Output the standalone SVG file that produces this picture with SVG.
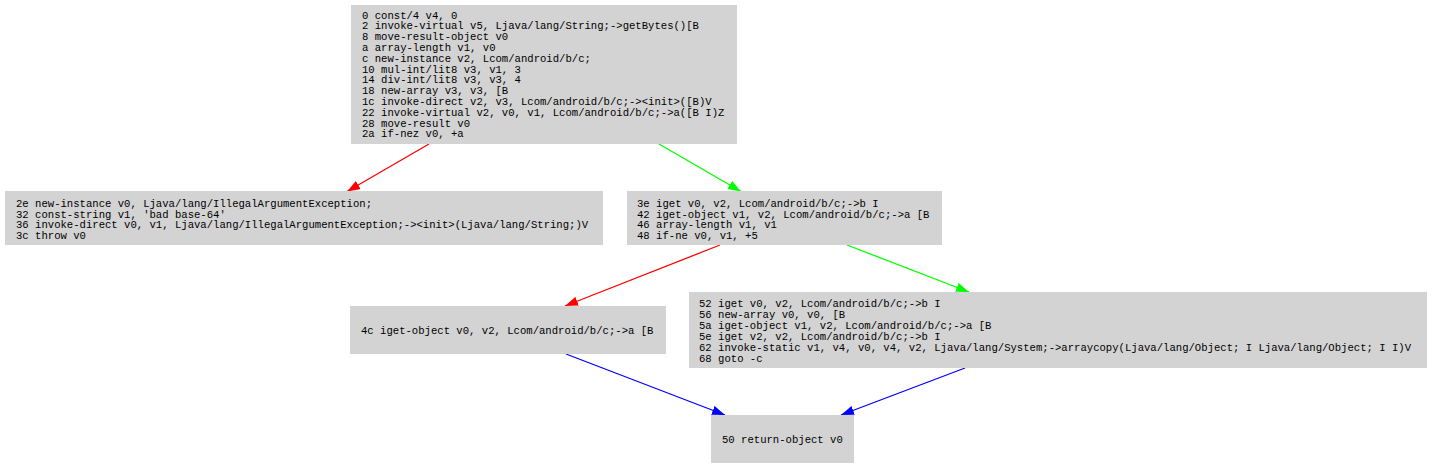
<svg xmlns="http://www.w3.org/2000/svg" width="1432" height="469" viewBox="0 0 1432 469">
<style>
.box{fill:#d3d3d3;stroke:none}
.t{font-family:"Liberation Mono","Courier New",monospace;font-size:10.6px;fill:#000}
.e{fill:none;stroke-width:1.3}
</style>
<defs>
<marker id="ar" markerUnits="userSpaceOnUse" markerWidth="14" markerHeight="10" refX="13" refY="4.7" orient="auto"><path d="M0,0 L13,4.7 L0,9.4 z" fill="#ff0000"/></marker>
<marker id="ag" markerUnits="userSpaceOnUse" markerWidth="14" markerHeight="10" refX="13" refY="4.7" orient="auto"><path d="M0,0 L13,4.7 L0,9.4 z" fill="#00ff00"/></marker>
<marker id="ab" markerUnits="userSpaceOnUse" markerWidth="14" markerHeight="10" refX="13" refY="4.7" orient="auto"><path d="M0,0 L13,4.7 L0,9.4 z" fill="#0000ff"/></marker>
</defs>
<rect width="1432" height="469" fill="#fff"/>
<g id="edges">
<line class="e" x1="429" y1="144" x2="347" y2="191.5" stroke="#ff0000" marker-end="url(#ar)"/>
<line class="e" x1="659" y1="144" x2="741" y2="191.5" stroke="#00ff00" marker-end="url(#ag)"/>
<line class="e" x1="720" y1="245" x2="565" y2="306" stroke="#ff0000" marker-end="url(#ar)"/>
<line class="e" x1="847" y1="245" x2="969" y2="292" stroke="#00ff00" marker-end="url(#ag)"/>
<line class="e" x1="566" y1="354" x2="725" y2="415" stroke="#0000ff" marker-end="url(#ab)"/>
<line class="e" x1="965" y1="368" x2="841" y2="415" stroke="#0000ff" marker-end="url(#ab)"/>
</g>
<g id="n0">
<rect class="box" x="351" y="5" width="386" height="139"/>
<text class="t" x="362" y="18.5">0 const/4 v4, 0</text>
<text class="t" x="362" y="29.3">2 invoke-virtual v5, Ljava/lang/String;-&gt;getBytes()[B</text>
<text class="t" x="362" y="40.1">8 move-result-object v0</text>
<text class="t" x="362" y="50.9">a array-length v1, v0</text>
<text class="t" x="362" y="61.7">c new-instance v2, Lcom/android/b/c;</text>
<text class="t" x="362" y="72.5">10 mul-int/lit8 v3, v1, 3</text>
<text class="t" x="362" y="83.3">14 div-int/lit8 v3, v3, 4</text>
<text class="t" x="362" y="94.1">18 new-array v3, v3, [B</text>
<text class="t" x="362" y="104.9">1c invoke-direct v2, v3, Lcom/android/b/c;-&gt;&lt;init&gt;([B)V</text>
<text class="t" x="362" y="115.7">22 invoke-virtual v2, v0, v1, Lcom/android/b/c;-&gt;a([B I)Z</text>
<text class="t" x="362" y="126.5">28 move-result v0</text>
<text class="t" x="362" y="137.3">2a if-nez v0, +a</text>
</g>
<g id="n2e">
<rect class="box" x="5" y="191" width="598" height="54"/>
<text class="t" x="16" y="207">2e new-instance v0, Ljava/lang/IllegalArgumentException;</text>
<text class="t" x="16" y="217.6">32 const-string v1, 'bad base-64'</text>
<text class="t" x="16" y="228.2">36 invoke-direct v0, v1, Ljava/lang/IllegalArgumentException;-&gt;&lt;init&gt;(Ljava/lang/String;)V</text>
<text class="t" x="16" y="238.8">3c throw v0</text>
</g>
<g id="n3e">
<rect class="box" x="627" y="191" width="315" height="54"/>
<text class="t" x="637" y="207">3e iget v0, v2, Lcom/android/b/c;-&gt;b I</text>
<text class="t" x="637" y="217.6">42 iget-object v1, v2, Lcom/android/b/c;-&gt;a [B</text>
<text class="t" x="637" y="228.2">46 array-length v1, v1</text>
<text class="t" x="637" y="238.8">48 if-ne v0, v1, +5</text>
</g>
<g id="n4c">
<rect class="box" x="350" y="306" width="316" height="48"/>
<text class="t" x="361" y="334">4c iget-object v0, v2, Lcom/android/b/c;-&gt;a [B</text>
</g>
<g id="n52">
<rect class="box" x="689" y="292" width="738" height="76"/>
<text class="t" x="699" y="306.5">52 iget v0, v2, Lcom/android/b/c;-&gt;b I</text>
<text class="t" x="699" y="317.5">56 new-array v0, v0, [B</text>
<text class="t" x="699" y="328.5">5a iget-object v1, v2, Lcom/android/b/c;-&gt;a [B</text>
<text class="t" x="699" y="339.5">5e iget v2, v2, Lcom/android/b/c;-&gt;b I</text>
<text class="t" x="699" y="350.5">62 invoke-static v1, v4, v0, v4, v2, Ljava/lang/System;-&gt;arraycopy(Ljava/lang/Object; I Ljava/lang/Object; I I)V</text>
<text class="t" x="699" y="361.5">68 goto -c</text>
</g>
<g id="n50">
<rect class="box" x="711" y="415" width="143" height="48"/>
<text class="t" x="722" y="443">50 return-object v0</text>
</g>
</svg>
